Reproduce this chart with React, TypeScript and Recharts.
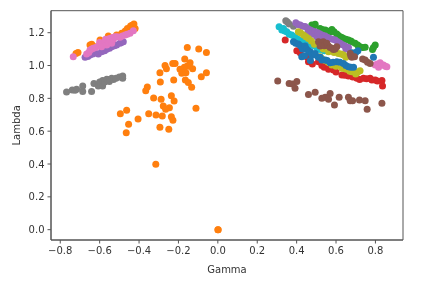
import { ScatterChart, Scatter, XAxis, YAxis, ReferenceArea } from "recharts";

type Pt = [number, number];

const xTicks = [-0.8, -0.6, -0.4, -0.2, 0, 0.2, 0.4, 0.6, 0.8];
const yTicks = [0, 0.2, 0.4, 0.6, 0.8, 1.0, 1.2];
const xDomain: [number, number] = [-0.847, 0.94];
const yDomain: [number, number] = [-0.063, 1.334];

const orangeBand: Pt[] = [[-0.72,1.074],[-0.71,1.08],[-0.649,1.125],[-0.64,1.13],[-0.624,1.115],[-0.598,1.155],[-0.556,1.18],[-0.514,1.186],[-0.488,1.196],[-0.47,1.21],[-0.459,1.226],[-0.443,1.241],[-0.435,1.245],[-0.426,1.253],[-0.43,1.23],[-0.42,1.226]];
const orangeCloud: Pt[] = [[-0.155,1.11],[-0.097,1.1],[-0.058,1.08],[-0.168,1.04],[-0.217,1.013],[-0.229,1.013],[-0.268,1.0],[-0.261,0.98],[-0.294,0.956],[-0.141,1.017],[-0.128,0.98],[-0.155,0.997],[-0.145,0.995],[-0.17,0.99],[-0.192,0.977],[-0.183,0.953],[-0.162,0.956],[-0.058,0.956],[-0.084,0.932],[-0.292,0.9],[-0.224,0.912],[-0.165,0.912],[-0.15,0.896],[-0.133,0.867],[-0.358,0.869],[-0.366,0.847],[-0.326,0.802],[-0.288,0.794],[-0.236,0.816],[-0.222,0.784],[-0.277,0.753],[-0.246,0.743],[-0.265,0.733],[-0.111,0.739],[-0.463,0.727],[-0.495,0.706],[-0.405,0.674],[-0.351,0.706],[-0.314,0.699],[-0.282,0.692],[-0.236,0.688],[-0.228,0.666],[-0.453,0.642],[-0.465,0.59],[-0.294,0.624],[-0.249,0.611],[-0.315,0.398],[0,0],[0.002,0]];
const purpleLeft: Pt[] = [[-0.674,1.05],[-0.66,1.055],[-0.649,1.064],[-0.635,1.07],[-0.624,1.078],[-0.607,1.07],[-0.59,1.084],[-0.575,1.09],[-0.564,1.099],[-0.55,1.105],[-0.539,1.115],[-0.525,1.12],[-0.514,1.125],[-0.497,1.135],[-0.49,1.14],[-0.48,1.145]];
const pinkLeft: Pt[] = [[-0.734,1.054],[-0.666,1.07],[-0.655,1.08],[-0.649,1.094],[-0.64,1.1],[-0.632,1.105],[-0.62,1.11],[-0.605,1.12],[-0.6,1.14],[-0.59,1.135],[-0.58,1.13],[-0.573,1.145],[-0.57,1.16],[-0.59,1.115],[-0.564,1.125],[-0.555,1.14],[-0.55,1.165],[-0.547,1.155],[-0.539,1.135],[-0.535,1.17],[-0.53,1.16],[-0.522,1.176],[-0.51,1.175],[-0.497,1.172],[-0.485,1.18],[-0.471,1.186],[-0.46,1.19],[-0.446,1.196],[-0.429,1.212]];
const grayLeft: Pt[] = [[-0.768,0.839],[-0.739,0.851],[-0.725,0.85],[-0.717,0.855],[-0.686,0.875],[-0.686,0.841],[-0.641,0.841],[-0.629,0.891],[-0.607,0.875],[-0.6,0.9],[-0.595,0.885],[-0.585,0.908],[-0.585,0.875],[-0.575,0.9],[-0.564,0.916],[-0.551,0.902],[-0.55,0.915],[-0.539,0.922],[-0.53,0.915],[-0.517,0.922],[-0.5,0.93],[-0.483,0.936],[-0.483,0.922]];

const redRight: Pt[] = [[0.342,1.155],[0.401,1.09],[0.418,1.078],[0.452,1.054],[0.46,1.023],[0.48,1.01],[0.511,1.023],[0.528,1.0],[0.54,0.99],[0.562,0.977],[0.587,0.973],[0.6,0.96],[0.63,0.942],[0.645,0.94],[0.663,0.936],[0.685,0.93],[0.706,0.922],[0.72,0.915],[0.739,0.922],[0.755,0.92],[0.773,0.922],[0.782,0.912],[0.799,0.912],[0.81,0.905],[0.833,0.908],[0.836,0.875]];
const greenRight: Pt[] = [[0.477,1.247],[0.486,1.24],[0.494,1.251],[0.519,1.226],[0.53,1.22],[0.545,1.216],[0.555,1.21],[0.562,1.2],[0.57,1.205],[0.579,1.22],[0.59,1.205],[0.604,1.192],[0.61,1.185],[0.621,1.176],[0.63,1.17],[0.638,1.165],[0.65,1.16],[0.663,1.155],[0.675,1.15],[0.68,1.145],[0.697,1.135],[0.71,1.125],[0.722,1.115],[0.735,1.11],[0.748,1.111],[0.799,1.125],[0.79,1.11],[0.785,1.098]];
const grayRight: Pt[] = [[0.345,1.273],[0.353,1.265],[0.362,1.253],[0.384,1.24]];
const purpleRight: Pt[] = [[0.396,1.261],[0.407,1.25],[0.418,1.247],[0.43,1.24],[0.443,1.237],[0.456,1.225],[0.469,1.216],[0.457,1.2],[0.48,1.21],[0.48,1.19],[0.494,1.206],[0.502,1.176],[0.507,1.2],[0.519,1.192],[0.53,1.17],[0.532,1.185],[0.545,1.18],[0.558,1.17],[0.57,1.165],[0.583,1.16],[0.596,1.155],[0.608,1.145],[0.621,1.135],[0.633,1.127],[0.646,1.119],[0.65,1.1],[0.663,1.11]];
const oliveRight: Pt[] = [[0.409,1.206],[0.42,1.2],[0.435,1.186],[0.447,1.175],[0.46,1.165],[0.475,1.15],[0.49,1.13],[0.535,1.1],[0.562,1.084],[0.59,1.08],[0.612,1.074],[0.625,1.07],[0.638,1.064],[0.65,1.05],[0.519,1.054],[0.53,1.04],[0.545,1.03],[0.56,1.02],[0.579,1.003],[0.6,0.995],[0.63,0.983],[0.645,0.98],[0.655,0.977],[0.67,0.965],[0.68,0.962],[0.71,0.96],[0.722,0.968],[0.7,0.948]];
const cyanRight: Pt[] = [[0.311,1.236],[0.333,1.226],[0.325,1.216],[0.34,1.21],[0.35,1.206],[0.362,1.19],[0.375,1.186],[0.39,1.175],[0.401,1.165],[0.415,1.155],[0.426,1.151],[0.44,1.145],[0.452,1.139],[0.465,1.13],[0.477,1.125],[0.49,1.12],[0.502,1.111],[0.51,1.105],[0.519,1.098],[0.54,1.09]];
const blueRight: Pt[] = [[0.384,1.145],[0.395,1.135],[0.409,1.131],[0.42,1.12],[0.43,1.1],[0.426,1.054],[0.44,1.06],[0.443,1.119],[0.45,1.1],[0.46,1.09],[0.469,1.084],[0.47,1.03],[0.475,1.07],[0.485,1.064],[0.494,1.074],[0.51,1.05],[0.52,1.05],[0.528,1.033],[0.545,1.033],[0.555,1.03],[0.57,1.017],[0.585,1.02],[0.604,1.023],[0.62,1.02],[0.638,1.013],[0.65,1.0],[0.663,0.993],[0.675,0.99],[0.689,0.989],[0.711,1.09],[0.7,1.08],[0.79,1.05],[0.68,1.078]];
const brownLow: Pt[] = [[0.304,0.906],[0.362,0.891],[0.379,0.887],[0.401,0.902],[0.392,0.861],[0.46,0.824],[0.494,0.837],[0.528,0.8],[0.545,0.806],[0.57,0.83],[0.562,0.794],[0.592,0.759],[0.616,0.806],[0.663,0.806],[0.672,0.786],[0.684,0.786],[0.719,0.79],[0.748,0.786],[0.758,0.733],[0.833,0.77]];
const brownHigh: Pt[] = [[0.511,1.145],[0.528,1.135],[0.535,1.145],[0.519,1.119],[0.54,1.12],[0.553,1.135],[0.56,1.12],[0.57,1.11],[0.58,1.105],[0.587,1.098],[0.595,1.1],[0.604,1.115],[0.672,1.074],[0.675,1.06],[0.68,1.05],[0.694,1.054],[0.735,1.04],[0.748,1.033],[0.76,1.02],[0.773,1.013]];
const pinkRight: Pt[] = [[0.799,1.003],[0.81,1.01],[0.824,1.017],[0.816,0.989],[0.83,1.005],[0.841,1.003],[0.85,0.995],[0.858,0.993]];

const toRows = (pts: Pt[]) => pts.map(([gamma, lambda]) => ({ gamma, lambda }));

const series: [Pt[], string][] = [
  [orangeBand, "#ff7f0e"],
  [orangeCloud, "#ff7f0e"],
  [purpleLeft, "#9467bd"],
  [pinkLeft, "#e377c2"],
  [grayLeft, "#7f7f7f"],
  [redRight, "#d62728"],
  [greenRight, "#2ca02c"],
  [grayRight, "#7f7f7f"],
  [purpleRight, "#9467bd"],
  [pinkRight, "#e377c2"],
  [cyanRight, "#17becf"],
  [oliveRight, "#bcbd22"],
  [blueRight, "#1f77b4"],
  [brownHigh, "#8c564b"],
  [brownLow, "#8c564b"],
];

const axisColor = "#555";
const tickStyle = { fontSize: 10, fill: "#333", fontFamily: "DejaVu Sans" };
const labelStyle = { fontSize: 10, fill: "#333", fontFamily: "DejaVu Sans" };
const fmt = (v: number) => (v < 0 ? "\u2212" : "") + Math.abs(v).toFixed(1);

const Dot = (p: any) => <circle cx={p.cx} cy={p.cy} r={3.5} fill={p.fill} />;

export default function App() {
  return (
    <div style={{ position: "absolute", left: 0, top: 0, width: 423, height: 284, background: "#fff", filter: "blur(0.4px)" }}>
      <ScatterChart width={423} height={284} margin={{ top: 10.7, right: 20, bottom: 0, left: 0 }}>
        <XAxis
          type="number"
          dataKey="gamma"
          domain={xDomain}
          ticks={xTicks}
          interval={0}
          allowDataOverflow
          tickFormatter={fmt}
          tick={tickStyle}
          tickSize={3.5}
          tickMargin={3}
          height={44}
          stroke={axisColor}
          label={{ value: "Gamma", position: "insideBottom", offset: 11, style: labelStyle }}
        />
        <YAxis
          type="number"
          dataKey="lambda"
          domain={yDomain}
          ticks={yTicks}
          interval={0}
          allowDataOverflow
          tickFormatter={fmt}
          tick={tickStyle}
          tickSize={3.5}
          tickMargin={3}
          width={51}
          stroke={axisColor}
          label={{ value: "Lambda", angle: -90, position: "insideLeft", offset: 16, style: { ...labelStyle, textAnchor: "middle" } }}
        />
        <ReferenceArea x1={xDomain[0]} x2={xDomain[1]} y1={yDomain[0]} y2={yDomain[1]} fill="none" stroke={axisColor} strokeWidth={1} />
        {series.map(([pts, color], i) => (
          <Scatter key={i} data={toRows(pts)} fill={color} shape={Dot} isAnimationActive={false} />
        ))}
      </ScatterChart>
    </div>
  );
}
